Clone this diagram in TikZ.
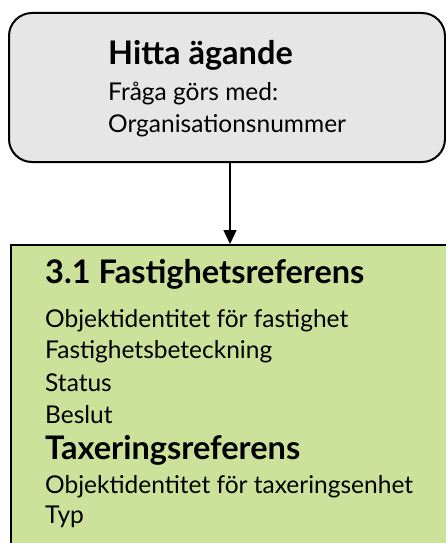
\documentclass[tikz,border=0pt]{standalone}
\usepackage{fontspec}
\setmainfont{Lato}
\usetikzlibrary{arrows.meta}

\definecolor{ownfill}{RGB}{230,230,230}
\definecolor{reffill}{RGB}{204,225,153}

\tikzset{
  box/.style={draw=black,line width=2pt,inner sep=0pt},
  head/.style={anchor=base west,inner sep=0pt,font=\fontsize{32.5}{36}\selectfont\bfseries},
  item/.style={anchor=base west,inner sep=0pt,font=\fontsize{24.5}{28}\selectfont},
  arr/.style={line width=1.5pt,-{Triangle[width=13pt,length=14pt]}}
}

\begin{document}
\begin{tikzpicture}[x=1pt,y=-1pt]
\useasboundingbox (0,0) rectangle (446,543);
\clip (0,0) rectangle (446,543);

\node[box,fill=ownfill,rounded corners=23pt,minimum width=436pt,minimum height=149pt] (own) at (227,87.5) {};
\node[box,fill=reffill,minimum width=460pt,minimum height=330pt] (fast) at (241,410) {};

\node[head] (h1) at (108,64) {Hitta ägande};
\node[item] (o1) at (108,100) {Fråga görs med:};
\node[item] (o2) at (108,132) {Organisationsnummer};

\node[head] (h2) at (45,283) {3.1 Fastighetsreferens};
\foreach \b/\y/\t in {1/327/Objektidentitet för fastighet,2/358/Fastighetsbeteckning,3/391/Status,4/423/Beslut} {
  \node[item] (f\b) at (45,\y) {\t};
}
\node[head] (h3) at (45,459) {Taxeringsreferens};
\foreach \b/\y/\t in {1/493/Objektidentitet för taxeringsenhet,2/523/Typ} {
  \node[item] (t\b) at (45,\y) {\t};
}

\coordinate (ax) at (230,0);
\draw[arr] (own.south -| ax) -- (fast.north -| ax);
\end{tikzpicture}
\end{document}
